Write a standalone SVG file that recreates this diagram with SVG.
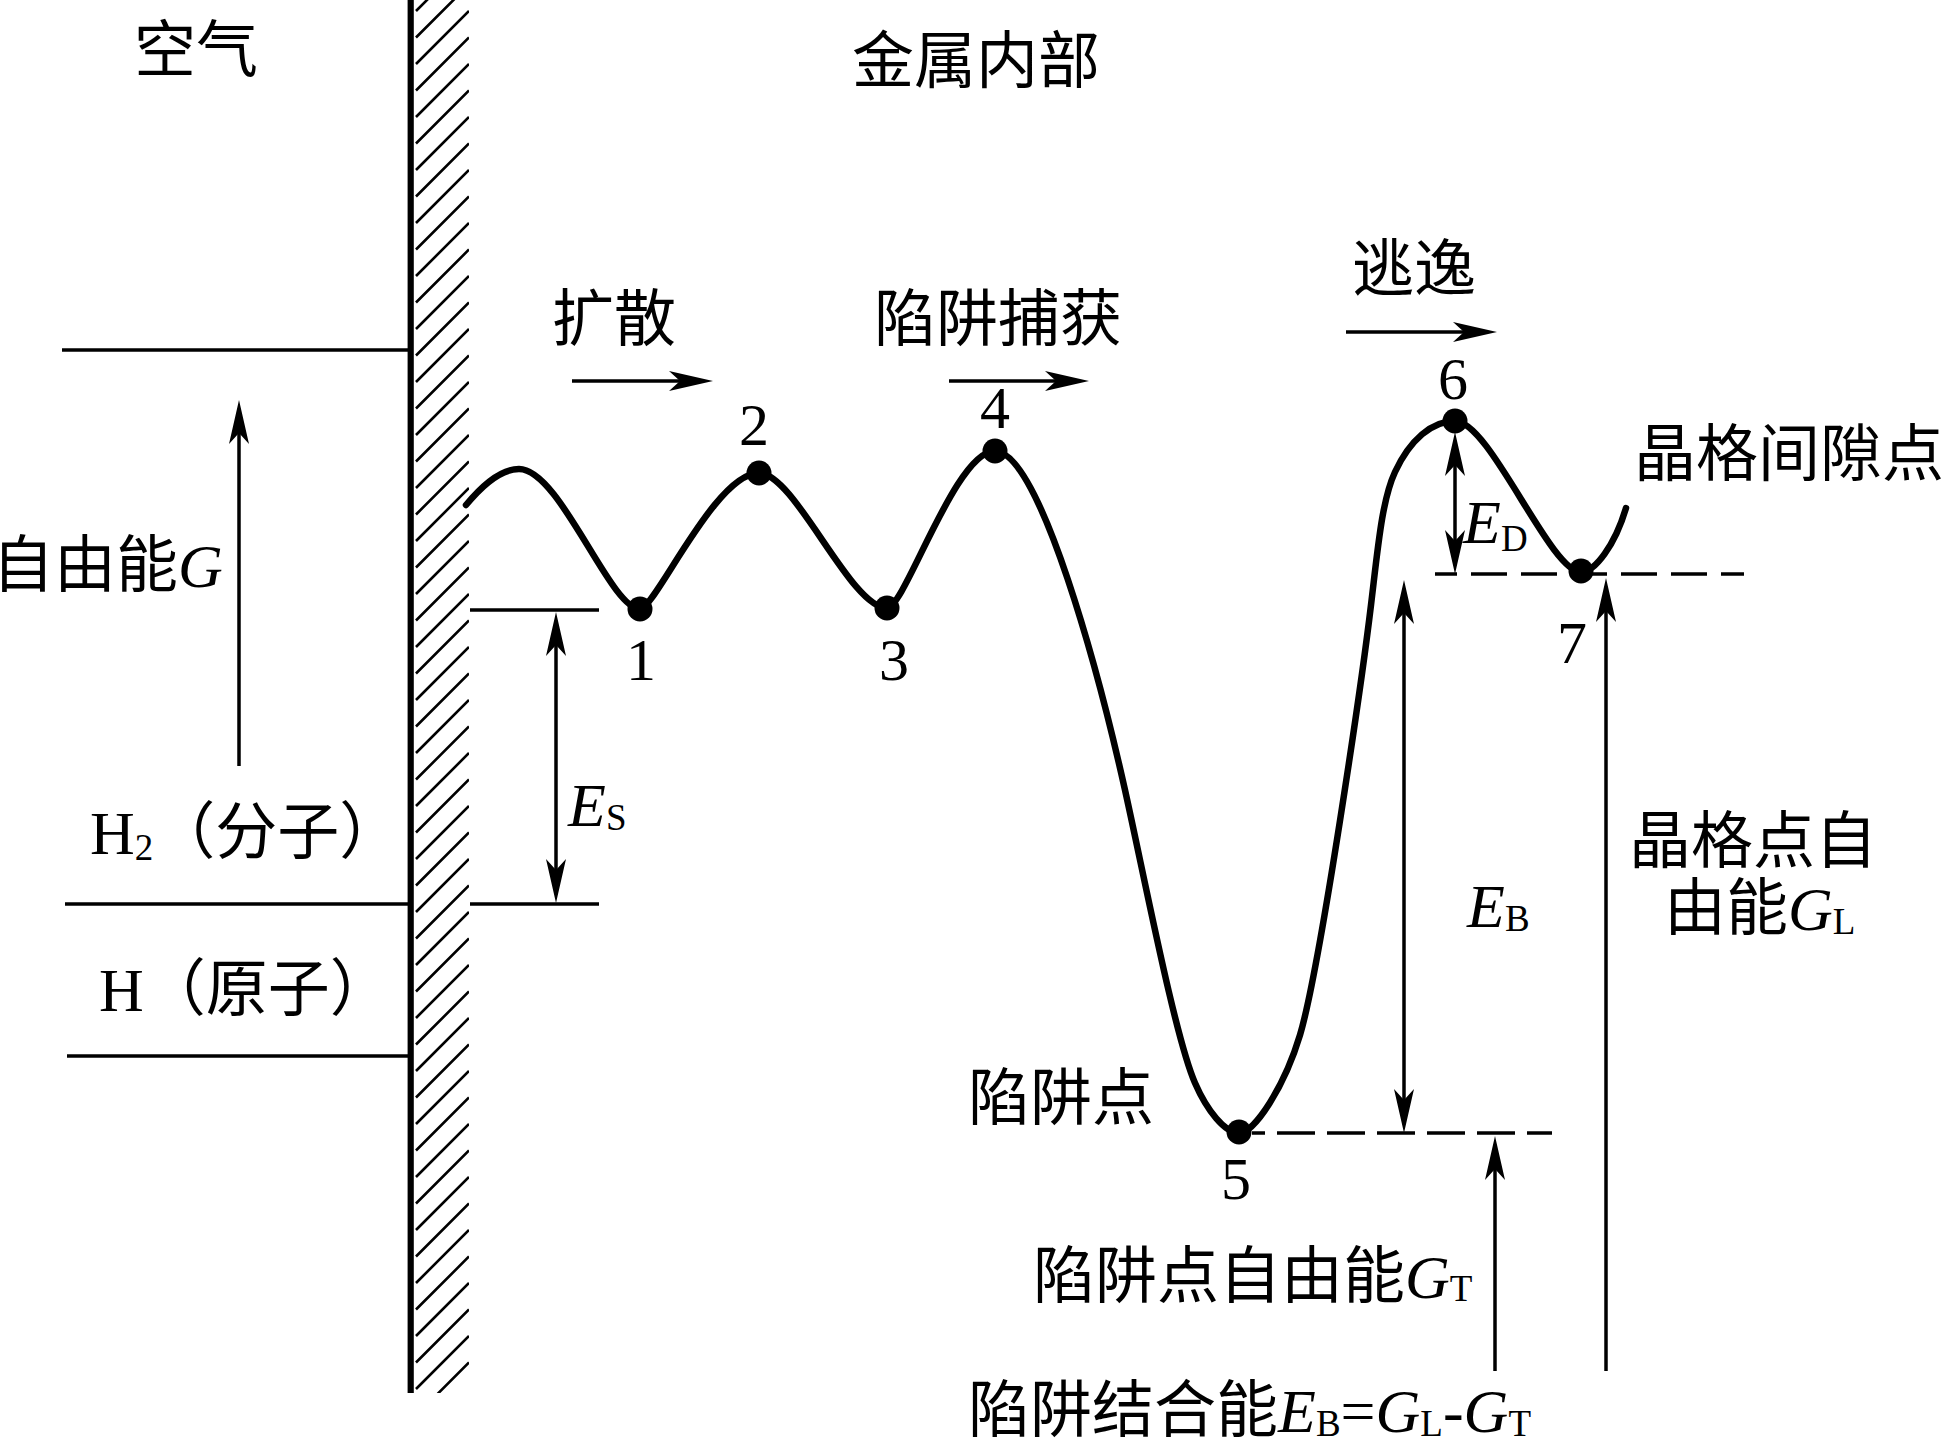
<svg xmlns="http://www.w3.org/2000/svg" width="1942" height="1440" viewBox="0 0 1942 1440">
<style>
.cjk{font-family:"Noto Sans CJK SC","Noto Sans CJK JP",sans-serif;font-size:62px;font-style:normal;fill:#000}
.lat{font-family:"Liberation Serif","Times New Roman",serif;font-size:62px;font-style:normal;fill:#000}
.it{font-family:"Liberation Serif","Times New Roman",serif;font-size:62px;font-style:italic;fill:#000}
.sub{font-family:"Liberation Serif","Times New Roman",serif;font-size:37px;font-style:normal;fill:#000}
.num{font-family:"Liberation Serif","Times New Roman",serif;font-size:60px;text-anchor:middle;fill:#000}
.thin{stroke:#000;stroke-width:3.5;fill:none}
.arr{stroke:#000;stroke-width:3.5;fill:none;marker-end:url(#ah)}
.darr{stroke:#000;stroke-width:3.5;fill:none;marker-start:url(#ah);marker-end:url(#ah)}
.dash{stroke:#000;stroke-width:3.5;fill:none;stroke-dasharray:36 14}
.curve{stroke:#000;stroke-width:6.5;fill:none;stroke-linejoin:round;stroke-linecap:round}
.dot{fill:#000}
</style>
<defs>
<marker id="ah" markerUnits="userSpaceOnUse" markerWidth="44" markerHeight="20" viewBox="0 0 44 20" refX="34" refY="10" orient="auto-start-reverse">
<path d="M0,0 L44,10 L0,20 L11,10 Z" fill="#000"/>
</marker>
<clipPath id="hclip"><rect x="413" y="0" width="56" height="1393"/></clipPath>
</defs>
<rect x="0" y="0" width="1942" height="1440" fill="#fff"/>

<g id="wall">
<path clip-path="url(#hclip)" stroke="#000" stroke-width="2.6" fill="none" d="M416 11L469 -42M416 37.5L469 -15.5M416 64L469 11M416 90.5L469 37.5M416 117L469 64M416 143.5L469 90.5M416 170L469 117M416 196.5L469 143.5M416 223L469 170M416 249.5L469 196.5M416 276L469 223M416 302.5L469 249.5M416 329L469 276M416 355.5L469 302.5M416 382L469 329M416 408.5L469 355.5M416 435L469 382M416 461.5L469 408.5M416 488L469 435M416 514.5L469 461.5M416 541L469 488M416 567.5L469 514.5M416 594L469 541M416 620.5L469 567.5M416 647L469 594M416 673.5L469 620.5M416 700L469 647M416 726.5L469 673.5M416 753L469 700M416 779.5L469 726.5M416 806L469 753M416 832.5L469 779.5M416 859L469 806M416 885.5L469 832.5M416 912L469 859M416 938.5L469 885.5M416 965L469 912M416 991.5L469 938.5M416 1018L469 965M416 1044.5L469 991.5M416 1071L469 1018M416 1097.5L469 1044.5M416 1124L469 1071M416 1150.5L469 1097.5M416 1177L469 1124M416 1203.5L469 1150.5M416 1230L469 1177M416 1256.5L469 1203.5M416 1283L469 1230M416 1309.5L469 1256.5M416 1336L469 1283M416 1362.5L469 1309.5M416 1389L469 1336M416 1415.5L469 1362.5"/>
<line x1="410.7" y1="0" x2="410.7" y2="1393" stroke="#000" stroke-width="6.2"/>
</g>

<g id="connectors">
<path class="thin" d="M62,350 H411"/>
<path class="thin" d="M65,904 H411"/>
<path class="thin" d="M67,1056 H411"/>
<path class="thin" d="M470,610 H599"/>
<path class="thin" d="M470,904 H599"/>
<path class="dash" stroke-dashoffset="14" d="M1435,574 H1744"/>
<path class="dash" style="stroke-dasharray:38 12" stroke-dashoffset="25" d="M1252,1133 H1552"/>
<path class="arr" d="M239,766 V410"/>
<path class="darr" d="M556,622 V893"/>
<path class="arr" d="M572,381 H703"/>
<path class="arr" d="M949,381 H1079"/>
<path class="arr" d="M1346,332 H1487"/>
<path class="darr" d="M1455,442 V564"/>
<path class="darr" d="M1404,590 V1123"/>
<path class="arr" d="M1495,1371 V1146"/>
<path class="arr" d="M1606,1371 V588"/>
<path id="energy-curve" class="curve" d="M466,505 C480,488 500,469 519,469 C560,469 610,609 640,609 C655,609 715,473 759,473 C795,473 850,608 887,608 C905,608 955,451 995,451 C1040,451 1100,678 1125,790 C1145,880 1175,1037 1195,1083 C1207,1110.6 1225,1133 1239,1133 C1255,1133 1285,1085 1300,1035 C1320,968 1362,680 1371,605 C1378,546.7 1382,500 1395,472 C1410,439.7 1432,421 1455,421 C1490,421 1550,572 1581,572 C1595,572 1615,545 1626,508"/>
</g>

<g id="node-1"><circle class="dot" cx="640" cy="609" r="12.5"/><text class="num" x="641" y="680">1</text></g>
<g id="node-2"><circle class="dot" cx="759" cy="473" r="12.5"/><text class="num" x="754" y="445">2</text></g>
<g id="node-3"><circle class="dot" cx="887" cy="608" r="12.5"/><text class="num" x="894" y="680">3</text></g>
<g id="node-4"><circle class="dot" cx="995" cy="451" r="12.5"/><text class="num" x="995" y="428">4</text></g>
<g id="node-5"><circle class="dot" cx="1239" cy="1132" r="12.5"/><text class="num" x="1236" y="1199">5</text></g>
<g id="node-6"><circle class="dot" cx="1455" cy="421" r="12.5"/><text class="num" x="1453" y="399">6</text></g>
<g id="node-7"><circle class="dot" cx="1581" cy="571" r="12.5"/><text class="num" x="1572" y="663">7</text></g>

<g id="label-air"><text class="cjk" x="134" y="72">空气</text></g>
<g id="label-metal"><text class="cjk" x="852" y="83">金属内部</text></g>
<g id="label-diffuse"><text class="cjk" x="552" y="341">扩散</text></g>
<g id="label-trapcapture"><text class="cjk" x="874" y="341">陷阱捕获</text></g>
<g id="label-escape"><text class="cjk" x="1352" y="291">逃逸</text></g>
<g id="label-G"><text class="cjk" x="-8" y="587">自由能<tspan class="it">G</tspan></text></g>
<g id="label-H2"><text class="lat" x="90" y="854">H<tspan class="sub" dy="6">2</tspan><tspan class="cjk" dy="-6">（分子）</tspan></text></g>
<g id="label-H"><text class="lat" x="99" y="1011">H<tspan class="cjk">（原子）</tspan></text></g>
<g id="label-ES"><text class="it" x="568" y="826">E<tspan class="sub" dy="4">S</tspan></text></g>
<g id="label-ED"><text class="it" x="1463" y="543">E<tspan class="sub" dy="8">D</tspan></text></g>
<g id="label-EB"><text class="it" x="1467" y="927">E<tspan class="sub" dy="4">B</tspan></text></g>
<g id="label-interstitial"><text class="cjk" x="1634" y="476">晶格间隙点</text></g>
<g id="label-GL"><text class="cjk" x="1629" y="863">晶格点自</text><text class="cjk" x="1664" y="930">由能<tspan class="it">G</tspan><tspan class="sub" dy="4">L</tspan></text></g>
<g id="label-trap"><text class="cjk" x="968" y="1120">陷阱点</text></g>
<g id="label-GT"><text class="cjk" x="1033" y="1298">陷阱点自由能<tspan class="it">G</tspan><tspan class="sub" dy="3">T</tspan></text></g>
<g id="label-formula"><text class="cjk" x="968" y="1432">陷阱结合能<tspan class="it">E</tspan><tspan class="sub" dy="4">B</tspan><tspan class="lat" dy="-4">=</tspan><tspan class="it">G</tspan><tspan class="sub" dy="4">L</tspan><tspan class="lat" dy="-4">-</tspan><tspan class="it">G</tspan><tspan class="sub" dy="4">T</tspan></text></g>
</svg>
